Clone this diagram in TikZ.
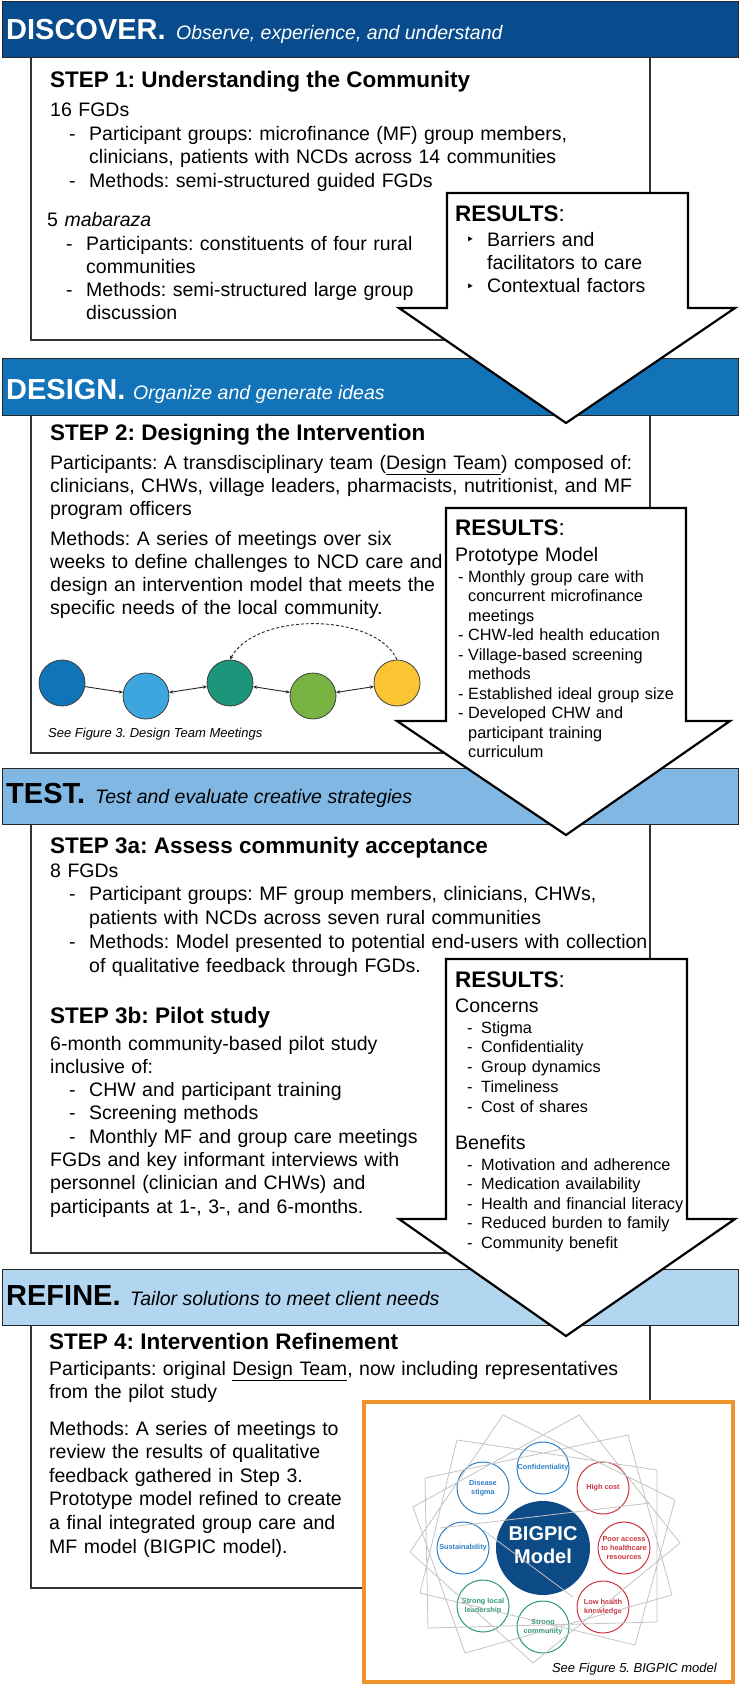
\documentclass[tikz,border=0pt]{standalone}
\usepackage{fontspec}
\setmainfont{Liberation Sans}
\newfontfamily\dejavu{DejaVu Sans}
\usetikzlibrary{arrows.meta}
\frenchspacing
\definecolor{discover}{HTML}{084C8D}
\definecolor{design}{HTML}{1373B8}
\definecolor{testc}{HTML}{80B7E3}
\definecolor{refine}{HTML}{B3D6F0}
\definecolor{boxline}{HTML}{333333}
\definecolor{cA}{HTML}{0F75B6}
\definecolor{cB}{HTML}{3DA6DF}
\definecolor{cC}{HTML}{1C967A}
\definecolor{cD}{HTML}{79B443}
\definecolor{cE}{HTML}{FBC433}
\definecolor{bigblue}{HTML}{0D4B87}
\definecolor{satblue}{HTML}{2F80C4}
\definecolor{satred}{HTML}{CC3340}
\definecolor{satgreen}{HTML}{2E9A6C}
\definecolor{orangec}{HTML}{F0922B}
\definecolor{starg}{HTML}{C4C4C4}
\newcommand\dl{\hspace*{19pt}\makebox[20pt][l]{-}}
\newcommand\dc{\hspace*{39pt}}
\newcommand\rdl{\hspace*{3pt}\makebox[10pt][l]{-}}
\newcommand\rdc{\hspace*{13pt}}
\newcommand\cdl{\hspace*{12pt}\makebox[14pt][l]{-}}
\begin{document}
\frenchspacing
\begin{tikzpicture}[x=1pt,y=-1pt,
  blk/.style={inner sep=0pt, anchor=base west, text width=680pt, align=left, font=\frenchspacing\fontsize{19.5}{23.4}\selectfont},
  sblk/.style={inner sep=0pt, anchor=base west, text width=300pt, align=left, font=\frenchspacing\fontsize{16.3}{19.55}\selectfont},
  ttl/.style={inner sep=0pt, anchor=base west, font=\frenchspacing\fontsize{22.5}{27}\selectfont\bfseries},
  bt/.style={inner sep=0pt, anchor=base west, font=\fontsize{29}{34}\selectfont\bfseries},
  bs/.style={inner sep=0pt, anchor=base west, font=\frenchspacing\fontsize{19.5}{23}\selectfont\itshape},
  figcap/.style={inner sep=0pt, font=\frenchspacing\fontsize{13}{15}\selectfont\itshape},
  banner/.style={draw=black!85, line width=1pt},
  stepbox/.style={draw=boxline, line width=1.3pt, fill=white},
  resarrow/.style={draw=black, line width=2.2pt, fill=white, line join=miter},
  dcirc/.style={circle, draw=black!75, line width=0.8pt, minimum size=46pt, inner sep=0pt},
  darr/.style={line width=0.9pt, black!85},
  sat/.style={circle, line width=1pt, minimum size=52pt, inner sep=0pt, align=center, font=\fontsize{7.3}{8.6}\selectfont\bfseries},
]
\useasboundingbox (0,0) rectangle (740,1685);
\fill[white] (0,0) rectangle (740,1685);

% ---------- step boxes ----------
\draw[stepbox] (31,50) rectangle (650,340);
\draw[stepbox] (31,410) rectangle (650,753);
\draw[stepbox] (31,820) rectangle (650,1253);
\draw[stepbox] (31,1320) rectangle (650,1588);

% ---------- banners ----------
\draw[banner, fill=discover] (2,2) rectangle (738,58);
\node[bt, text=white] (b1t) at (6,40) {DISCOVER.};
\node[bs, text=white] (b1s) at (176,40) {Observe, experience, and understand};

\draw[banner, fill=design] (2,358) rectangle (738,415);
\node[bt, text=white] (b2t) at (6,399) {DESIGN.};
\node[bs, text=white] (b2s) at (133,399) {Organize and generate ideas};

\draw[banner, fill=testc] (2,768) rectangle (738,824);
\node[bt] (b3t) at (6,803) {TEST.};
\node[bs] (b3s) at (95,803) {Test and evaluate creative strategies};

\draw[banner, fill=refine] (2,1269) rectangle (738,1325);
\node[bt] (b4t) at (6,1305) {REFINE.};
\node[bs] (b4s) at (130,1305) {Tailor solutions to meet client needs};

% ---------- step 1 ----------
\node[ttl] (s1t) at (50,88) {STEP 1: Understanding the Community};
\node[blk, font=\frenchspacing\fontsize{19.5}{23.5}\selectfont] (s1a) at (50,117) {16 FGDs\\
\dl Participant groups: microfinance (MF) group members,\\
\dc clinicians, patients with NCDs across 14 communities\\
\dl Methods: semi-structured guided FGDs};
\node[blk, font=\frenchspacing\fontsize{19.5}{23.25}\selectfont] (s1b) at (47,227) {5 \textit{mabaraza}\\
\dl Participants: constituents of four rural\\
\dc communities\\
\dl Methods: semi-structured large group\\
\dc discussion};

% ---------- step 2 ----------
\node[ttl] (s2t) at (50,440) {STEP 2: Designing the Intervention};
\node[blk, font=\frenchspacing\fontsize{19.5}{23}\selectfont] (s2a) at (50,469) {Participants: A transdisciplinary team (\underline{Design Team}) composed of:\\
clinicians, CHWs, village leaders, pharmacists, nutritionist, and MF\\
program officers};
\node[blk, font=\frenchspacing\fontsize{19.5}{23.3}\selectfont] (s2b) at (50,545) {Methods: A series of meetings over six\\
weeks to define challenges to NCD care and\\
design an intervention model that meets the\\
specific needs of the local community.};

\node[dcirc, fill=cA] (d1) at (62,683) {};
\node[dcirc, fill=cB] (d2) at (146,696) {};
\node[dcirc, fill=cC] (d3) at (230,683) {};
\node[dcirc, fill=cD] (d4) at (313,696) {};
\node[dcirc, fill=cE] (d5) at (397,683) {};
\draw[darr, -{Stealth[length=4pt,width=3.5pt]}] (d1) -- (d2);
\draw[darr, {Stealth[length=4pt,width=3.5pt]}-{Stealth[length=4pt,width=3.5pt]}] (d2) -- (d3);
\draw[darr, {Stealth[length=4pt,width=3.5pt]}-{Stealth[length=4pt,width=3.5pt]}] (d3) -- (d4);
\draw[darr, {Stealth[length=4pt,width=3.5pt]}-{Stealth[length=4pt,width=3.5pt]}] (d4) -- (d5);
\draw[darr, dash pattern=on 3pt off 2pt, -{Stealth[length=4pt,width=3.5pt]}] (d5.north) .. controls (375,612) and (255,612) .. (d3.north);
\node[figcap, anchor=base west] (c3) at (48,737) {See Figure 3. Design Team Meetings};

% ---------- step 3 ----------
\node[ttl] (s3t) at (50,853) {STEP 3a: Assess community acceptance};
\node[blk, font=\frenchspacing\fontsize{19.5}{23.75}\selectfont] (s3a) at (50,877) {8 FGDs\\
\dl Participant groups: MF group members, clinicians, CHWs,\\
\dc patients with NCDs across seven rural communities\\
\dl Methods: Model presented to potential end-users with collection\\
\dc of qualitative feedback through FGDs.};
\node[ttl] (s3u) at (50,1023) {STEP 3b: Pilot study};
\node[blk, font=\frenchspacing\fontsize{19.5}{23.3}\selectfont] (s3b) at (50,1050) {6-month community-based pilot study\\
inclusive of:\\
\dl CHW and participant training\\
\dl Screening methods\\
\dl Monthly MF and group care meetings\\
FGDs and key informant interviews with\\
personnel (clinician and CHWs) and\\
participants at 1-, 3-, and 6-months.};

% ---------- step 4 ----------
\node[ttl] (s4t) at (49,1349) {STEP 4: Intervention Refinement};
\node[blk, font=\frenchspacing\fontsize{19.5}{23}\selectfont] (s4a) at (49,1375) {Participants: original \underline{Design Team}, now including representatives\\
from the pilot study};
\node[blk, font=\frenchspacing\fontsize{19.5}{23.6}\selectfont] (s4b) at (49,1435) {Methods: A series of meetings to\\
review the results of qualitative\\
feedback gathered in Step 3.\\
Prototype model refined to create\\
a final integrated group care and\\
MF model (BIGPIC model).};

% ---------- results arrows ----------
\draw[resarrow] (447,193) -- (688,193) -- (688,308) -- (735,308) -- (566,423) -- (399,308) -- (447,308) -- cycle;
\node[ttl] (r1t) at (455,222) {RESULTS\textmd{:}};
\node[inner sep=0pt, anchor=base west, font=\dejavu\fontsize{14}{16}\selectfont] (r1b1) at (466,245) {‣};
\node[inner sep=0pt, anchor=base west, font=\dejavu\fontsize{14}{16}\selectfont] (r1b2) at (466,291) {‣};
\node[blk, text width=220pt, font=\frenchspacing\fontsize{19.5}{23}\selectfont] (r1a) at (487,247) {Barriers and\\
facilitators to care\\
Contextual factors};

\draw[resarrow] (446,508) -- (686,508) -- (686,721) -- (730,721) -- (566,835) -- (397,721) -- (446,721) -- cycle;
\node[ttl] (r2t) at (455,535) {RESULTS\textmd{:}};
\node[blk, text width=220pt] (r2h) at (455,561) {Prototype Model};
\node[sblk] (r2a) at (455,582) {\rdl Monthly group care with\\
\rdc concurrent microfinance\\
\rdc meetings\\
\rdl CHW-led health education\\
\rdl Village-based screening\\
\rdc methods\\
\rdl Established ideal group size\\
\rdl Developed CHW and\\
\rdc participant training\\
\rdc curriculum};

\draw[resarrow] (446,959) -- (687,959) -- (687,1219) -- (735,1219) -- (566,1336) -- (399,1219) -- (446,1219) -- cycle;
\node[ttl] (r3t) at (455,987) {RESULTS\textmd{:}};
\node[blk, text width=220pt] (r3h) at (455,1012) {Concerns};
\node[sblk, font=\frenchspacing\fontsize{16.3}{19.75}\selectfont] (r3a) at (455,1033) {\cdl Stigma\\
\cdl Confidentiality\\
\cdl Group dynamics\\
\cdl Timeliness\\
\cdl Cost of shares};
\node[blk, text width=220pt] (r3k) at (455,1149) {Benefits};
\node[sblk, font=\frenchspacing\fontsize{16.3}{19.5}\selectfont] (r3b) at (455,1170) {\cdl Motivation and adherence\\
\cdl Medication availability\\
\cdl Health and financial literacy\\
\cdl Reduced burden to family\\
\cdl Community benefit};

% ---------- BIGPIC figure ----------
\draw[orangec, line width=4pt, fill=white] (364,1402) rectangle (733,1682);
\node[circle, fill=bigblue, minimum size=94pt, inner sep=0pt] (big) at (543,1548) {};
\node[inner sep=0pt, anchor=base, text=white, font=\fontsize{20}{23}\selectfont\bfseries] (bigA) at (543,1540) {BIGPIC};
\node[inner sep=0pt, anchor=base, text=white, font=\fontsize{20}{23}\selectfont\bfseries] (bigB) at (543,1563) {Model};
\node[sat, draw=satblue, text=satblue] (sC) at (543,1468) {Confidentiality};
\node[sat, draw=satred, text=satred] (sH) at (603,1488) {High cost};
\node[sat, draw=satred, text=satred] (sP) at (624,1548) {Poor access\\to healthcare\\resources};
\node[sat, draw=satred, text=satred] (sL) at (603,1607) {Low health\\knowledge};
\node[sat, draw=satgreen, text=satgreen] (sS) at (543,1627) {Strong\\community};
\node[sat, draw=satgreen, text=satgreen] (sG) at (483,1606) {Strong local\\leadership};
\node[sat, draw=satblue, text=satblue] (sU) at (463,1548) {Sustainability};
\node[sat, draw=satblue, text=satblue] (sD) at (483,1488) {Disease\\stigma};
\draw[starg, line width=0.8pt, line join=bevel]
  (503,1415) -- (675,1500) -- (635,1645) -- (420,1593) -- (457,1440) -- (657,1470)
  -- (657,1622) -- (428,1628) -- (425,1478) -- (628,1435) -- (672,1595) -- (465,1653)
  -- (413,1507) -- (579,1415) -- (680,1543) -- (533,1663) -- (410,1552) -- cycle;
\draw[starg, line width=0.8pt] (440,1528) -- (650,1503);
\draw[starg, line width=0.8pt] (483,1530) -- (573,1597);
\node[figcap, anchor=base east] (c5) at (717,1672) {See Figure 5. BIGPIC model};
\end{tikzpicture}
\end{document}
